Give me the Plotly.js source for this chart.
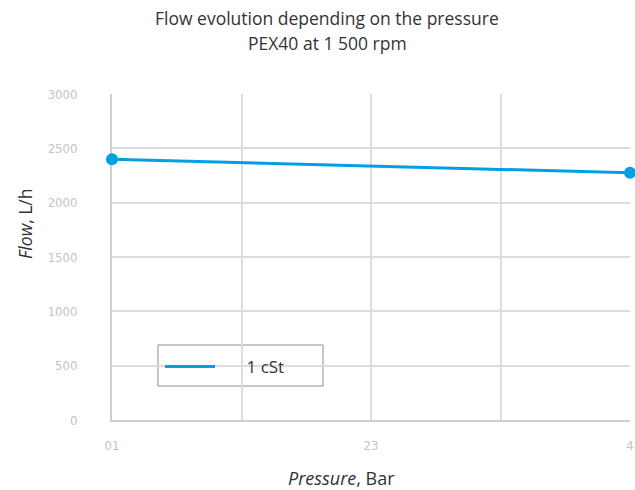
<!DOCTYPE html>
<html><head><meta charset="utf-8">
<script src="https://cdn.plot.ly/plotly-3.0.1.min.js"></script>
<style>html,body{margin:0;padding:0;background:#fff}#c{width:635px;height:490px}</style>
</head><body><div id="c"></div>
<script>
const pressure = [0, 4];
const flow1cSt = [2400, 2275];
const seriesName = "1 cSt";
const xTickVals = [0, 1, 2, 3, 4];
const xTickText = ["01", "", "23", "", "4"];
const yTickVals = [0, 500, 1000, 1500, 2000, 2500, 3000];

const tickFont = {family: "Liberation Sans Narrow, DejaVu Sans Condensed, sans-serif", size: 13, color: "#c4c4c4"};
const textFont = "Open Sans, sans-serif";
const blue = "#00a0e3";

// plot area in pixels: x 112..630, y 94..420
const px = v => (v - 112) / 518;
const py = v => (420 - v) / 326;

const trace = {
  x: pressure, y: flow1cSt, name: seriesName, type: "scatter", mode: "lines+markers",
  line: {color: blue, width: 3}, marker: {color: blue, size: 12},
  cliponaxis: false, showlegend: false
};
const legendTrace = {
  x: [null], y: [null], name: "\u00a0\u00a0\u00a0\u00a0\u00a0\u00a0" + seriesName,
  type: "scatter", mode: "lines", line: {color: blue, width: 3}, showlegend: true
};

const layout = {
  width: 635, height: 490,
  margin: {l: 112, r: 5, t: 94, b: 70},
  paper_bgcolor: "#fff", plot_bgcolor: "#fff",
  font: {family: textFont, color: "#333"},
  xaxis: {range: [0, 4], tickmode: "array", tickvals: xTickVals, ticktext: xTickText,
          showgrid: true, gridcolor: "#dddddd", gridwidth: 2, zeroline: false,
          showline: true, linecolor: "#cfcfcf", linewidth: 2, layer: "below traces",
          ticks: "", ticklabelstandoff: 12, tickfont: tickFont},
  yaxis: {range: [0, 3000], tickmode: "array", tickvals: yTickVals,
          showgrid: true, gridcolor: "#dddddd", gridwidth: 2, zeroline: false,
          showline: true, linecolor: "#cfcfcf", linewidth: 2, layer: "below traces",
          ticks: "", ticklabelstandoff: 30, tickfont: tickFont},
  showlegend: true,
  legend: {x: px(160), y: py(349), xanchor: "left", yanchor: "top", bgcolor: "rgba(0,0,0,0)",
           borderwidth: 0, itemwidth: 50,
           font: {family: textFont, size: 17, color: "#333"}},
  shapes: [
    {type: "rect", xref: "paper", yref: "paper", x0: px(158), x1: px(323), y0: py(386), y1: py(345),
     line: {color: "#8c8c8c", width: 1}, fillcolor: "#fff", layer: "below"}
  ],
  annotations: [
    {text: "Flow evolution depending on the pressure", xref: "paper", yref: "paper",
     x: px(327), y: py(18), xanchor: "center", yanchor: "middle", showarrow: false,
     font: {family: textFont, size: 17.5, color: "#333"}},
    {text: "PEX40 at 1 500 rpm", xref: "paper", yref: "paper",
     x: px(327), y: py(43), xanchor: "center", yanchor: "middle", showarrow: false,
     font: {family: textFont, size: 17.5, color: "#333"}},
    {text: "<i>Pressure</i>, Bar", xref: "paper", yref: "paper", x: px(341), y: py(478),
     xanchor: "center", yanchor: "middle", showarrow: false,
     font: {family: textFont, size: 18, color: "#333"}},
    {text: "<i>Flow</i>, L/h", xref: "paper", yref: "paper", x: px(25), y: py(224),
     xanchor: "center", yanchor: "middle", textangle: -90, showarrow: false,
     font: {family: textFont, size: 17.5, color: "#333"}}
  ]
};
Plotly.newPlot("c", [trace, legendTrace], layout, {displayModeBar: false, staticPlot: true});
</script></body></html>
